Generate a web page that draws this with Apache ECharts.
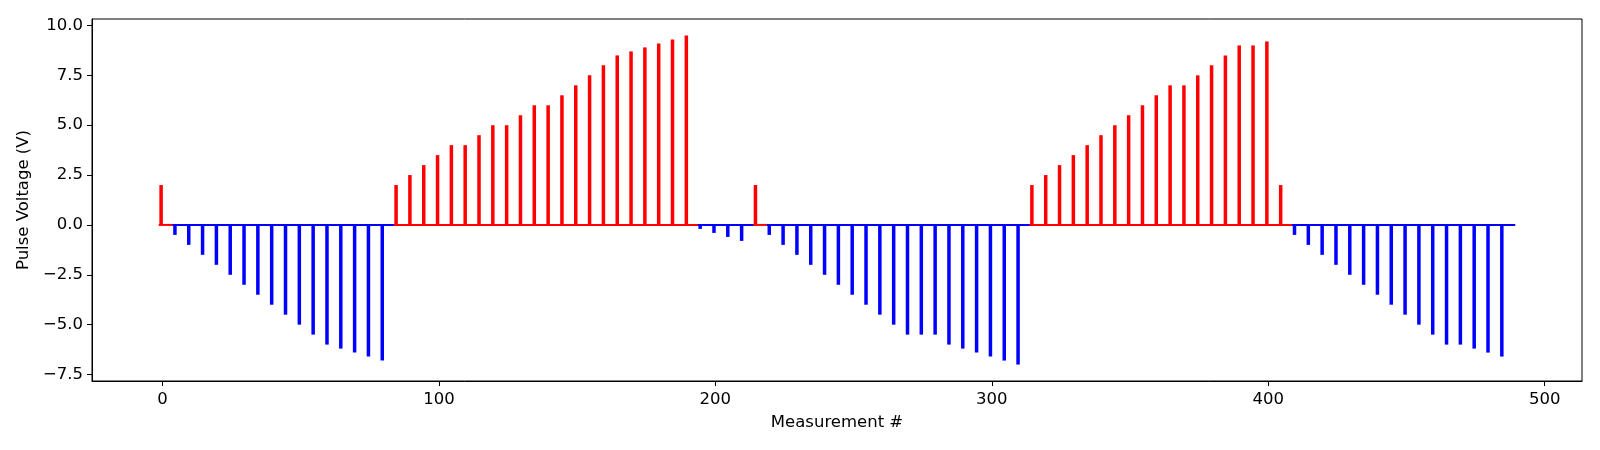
<!DOCTYPE html>
<html>
<head>
<meta charset="utf-8">
<script src="https://cdn.jsdelivr.net/npm/echarts@6/dist/echarts.min.js"></script>
<style>
  html, body { margin: 0; padding: 0; background: #fff; }
  #chart { width: 1600px; height: 450px; }
</style>
</head>
<body>
<div id="chart"></div>
<script>
// Pulse voltage applied every `pulseSpacing` measurements, starting at measurement 0
const pulseSpacing = 5;
const readsAfterPulse = 4;
const pulseVoltages = [
  2.0,
  -0.5, -1.0, -1.5, -2.0, -2.5, -3.0, -3.5, -4.0, -4.5, -5.0, -5.5, -6.0, -6.2, -6.4, -6.6, -6.8,
  2.0, 2.5, 3.0, 3.5, 4.0, 4.0, 4.5, 5.0, 5.0, 5.5, 6.0, 6.0, 6.5, 7.0, 7.5, 8.0, 8.5, 8.7, 8.9, 9.1, 9.3, 9.5,
  -0.2, -0.4, -0.6, -0.8,
  2.0,
  -0.5, -1.0, -1.5, -2.0, -2.5, -3.0, -3.5, -4.0, -4.5, -5.0, -5.5, -5.5, -5.5, -6.0, -6.2, -6.4, -6.6, -6.8, -7.0,
  2.0, 2.5, 3.0, 3.5, 4.0, 4.5, 5.0, 5.5, 6.0, 6.5, 7.0, 7.0, 7.5, 8.0, 8.5, 9.0, 9.0, 9.2, 2.0,
  -0.5, -1.0, -1.5, -2.0, -2.5, -3.0, -3.5, -4.0, -4.5, -5.0, -5.5, -6.0, -6.0, -6.2, -6.4, -6.6
];
const xTicks = [0, 100, 200, 300, 400, 500];
const yTicks = [-7.5, -5.0, -2.5, 0.0, 2.5, 5.0, 7.5, 10.0];
const positiveColor = '#ff0000';
const negativeColor = '#0000ff';

// group consecutive pulses of the same sign (for the coloured zero baseline)
const groups = [];
pulseVoltages.forEach((v, i) => {
  const x = i * pulseSpacing;
  const pos = v >= 0;
  const last = groups[groups.length - 1];
  if (last && last.pos === pos) last.pulses.push([x, v]);
  else groups.push({ pos, pulses: [[x, v]] });
});

// zero-level baseline of each group (step trace holds value over (x-1, x])
const baselineSeries = groups.map(g => {
  const x0 = g.pulses[0][0];
  const lastX = g.pulses[g.pulses.length - 1][0];
  return {
    type: 'line',
    data: [[x0 - 1, 0], [lastX + readsAfterPulse, 0]],
    symbol: 'none',
    lineStyle: { color: g.pos ? positiveColor : negativeColor, width: 2, cap: 'square' },
    itemStyle: { color: g.pos ? positiveColor : negativeColor },
    z: 2,
    animation: false,
    silent: true
  };
});

// pulses as thin bars spanning the measurement interval (x-1, x]
const pulseSeries = {
  type: 'bar',
  data: pulseVoltages.map((v, i) => [i * pulseSpacing - 0.5, v]),
  barWidth: 3.5,
  itemStyle: {
    color: p => (p.value[1] >= 0 ? positiveColor : negativeColor)
  },
  z: 3,
  animation: false,
  silent: true
};

const font = 'DejaVu Sans';
const fs = 16.5;
const chart = echarts.init(document.getElementById('chart'), null, { renderer: 'canvas' });
chart.setOption({
  backgroundColor: '#ffffff',
  animation: false,
  grid: {
    left: 92, right: 18, top: 19, bottom: 69,
    show: true, borderColor: '#000', borderWidth: 1, backgroundColor: 'transparent'
  },
  xAxis: {
    type: 'value',
    min: -25.5, max: 513.5,
    name: 'Measurement #',
    nameLocation: 'middle',
    nameGap: 33,
    nameTextStyle: { fontFamily: font, fontSize: fs, color: '#000' },
    axisLine: { show: true, onZero: false, lineStyle: { color: '#000', width: 1 } },
    axisTick: { show: true, customValues: xTicks, length: 5, lineStyle: { color: '#000', width: 1 } },
    axisLabel: { customValues: xTicks, fontFamily: font, fontSize: fs, color: '#000', margin: 10 },
    splitLine: { show: false }
  },
  yAxis: {
    type: 'value',
    min: -7.825, max: 10.325,
    name: 'Pulse Voltage (V)',
    nameLocation: 'middle',
    nameGap: 56,
    nameRotate: 90,
    nameTextStyle: { fontFamily: font, fontSize: fs, color: '#000' },
    axisLine: { show: true, onZero: false, lineStyle: { color: '#000', width: 1 } },
    axisTick: { show: true, customValues: yTicks, length: 5, lineStyle: { color: '#000', width: 1 } },
    axisLabel: {
      customValues: yTicks, fontFamily: font, fontSize: fs, color: '#000', margin: 9,
      formatter: v => v.toFixed(1).replace('-', '\u2212')
    },
    splitLine: { show: false }
  },
  series: baselineSeries.concat([pulseSeries])
});
</script>
</body>
</html>
